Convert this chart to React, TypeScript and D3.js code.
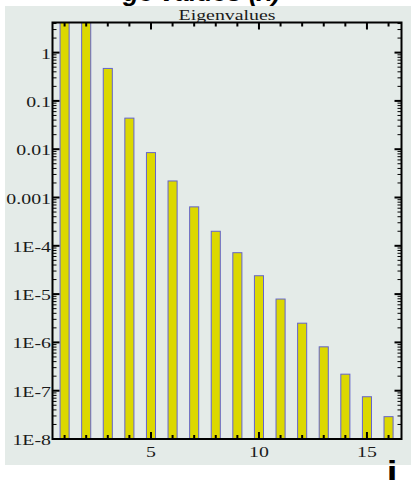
import React from "react";
import * as d3 from "d3";

// Eigenvalue spectrum, index i = 1..16 (log scale)
const eigenIndex = [1, 2, 3, 4, 5, 6, 7, 8, 9, 10, 11, 12, 13, 14, 15, 16];
const eigenvalues = [
  20, 8, 0.47, 0.044, 0.0085, 0.0022, 6.4e-4, 2.0e-4, 7.2e-5, 2.4e-5, 7.9e-6,
  2.5e-6, 8.1e-7, 2.2e-7, 7.5e-8, 2.9e-8,
];
const yTickValues = [1e-8, 1e-7, 1e-6, 1e-5, 1e-4, 1e-3, 1e-2, 1e-1, 1];
const yTickLabels = ["1E-8", "1E-7", "1E-6", "1E-5", "1E-4", "0.001", "0.01", "0.1", "1"];
const xMajorTicks = [5, 10, 15];
const xTickLabels = ["5", "10", "15"];

const W = 411;
const H = 480;
const frame = { left: 52.5, right: 401.5, top: 22.5, bottom: 439 };
const serif = "'Liberation Serif', 'DejaVu Serif', serif";
const stretch = 1.28;

export default function App() {
  const x = d3.scaleLinear().domain([0.44, 16.6]).range([frame.left, frame.right]);
  const y = d3.scaleLog().domain([1e-8, 4.2]).range([frame.bottom, frame.top]);
  const half = 0.21;

  // minor log ticks: 2..9 within each decade, clipped to the domain
  const minorY: number[] = [];
  for (let e = -8; e <= 0; e++) {
    for (let m = 2; m <= 9; m++) {
      const v = m * Math.pow(10, e);
      if (v <= y.domain()[1]) minorY.push(v);
    }
  }

  const majorLen = 7;
  const minorLen = 4;

  return (
    <svg
      width={W}
      height={H}
      style={{ position: "absolute", left: 0, top: 0, display: "block" }}
      viewBox={`0 0 ${W} ${H}`}
    >
      <rect x={0} y={0} width={W} height={H} fill="#ffffff" />
      <rect x={5} y={6} width={W - 5} height={459} fill="#e4ebe8" />

      {/* heading above the panel, mostly outside the page */}
      <text
        x={123}
        y={1}
        fontFamily="'Liberation Sans', Arial, sans-serif"
        fontWeight="bold"
        fontStyle="italic"
        fontSize={26}
        fill="#000"
      >
        ge values (λ)
      </text>
      <rect x={5} y={6} width={W - 5} height={14} fill="#e4ebe8" />

      <defs>
        <clipPath id="plotClip">
          <rect
            x={frame.left}
            y={frame.top}
            width={frame.right - frame.left}
            height={frame.bottom - frame.top}
          />
        </clipPath>
      </defs>

      {/* bars */}
      <g clipPath="url(#plotClip)">
        {eigenIndex.map((i, k) => {
          const x0 = x(i - half);
          const x1 = x(i + half);
          const yt = y(eigenvalues[k]);
          return (
            <rect
              key={i}
              x={x0}
              y={yt}
              width={x1 - x0}
              height={frame.bottom - yt}
              fill="#dcd800"
              stroke="#6464cc"
              strokeWidth={1}
            />
          );
        })}
      </g>

      {/* y ticks, left and right, pointing inward */}
      <g stroke="#000">
        {yTickValues.map((v) => (
          <g key={"ym" + v}>
            <line x1={frame.left} x2={frame.left + majorLen} y1={y(v)} y2={y(v)} strokeWidth={2} />
            <line x1={frame.right} x2={frame.right - majorLen} y1={y(v)} y2={y(v)} strokeWidth={2} />
          </g>
        ))}
        {minorY.map((v) => (
          <g key={"yn" + v}>
            <line x1={frame.left} x2={frame.left + minorLen} y1={y(v)} y2={y(v)} strokeWidth={1} />
            <line x1={frame.right} x2={frame.right - minorLen} y1={y(v)} y2={y(v)} strokeWidth={1} />
          </g>
        ))}
        {eigenIndex.map((i) => {
          const major = xMajorTicks.includes(i);
          const len = major ? majorLen : minorLen;
          return (
            <g key={"xt" + i}>
              <line x1={x(i)} x2={x(i)} y1={frame.bottom} y2={frame.bottom - len} strokeWidth={2} />
              <line x1={x(i)} x2={x(i)} y1={frame.top} y2={frame.top + len} strokeWidth={2} />
            </g>
          );
        })}
      </g>

      {/* frame */}
      <rect
        x={frame.left}
        y={frame.top}
        width={frame.right - frame.left}
        height={frame.bottom - frame.top}
        fill="none"
        stroke="#000"
        strokeWidth={2}
      />

      {/* y labels */}
      {yTickValues.map((v, k) => (
        <text
          key={"yl" + v}
          transform={`translate(${frame.left - 1.5},${y(v) + 6}) scale(${stretch},1)`}
          textAnchor="end"
          fontFamily={serif}
          fontSize={15.5}
          fill="#1a1a1a"
        >
          {yTickLabels[k]}
        </text>
      ))}

      {/* x labels */}
      {xMajorTicks.map((v, k) => (
        <text
          key={"xl" + v}
          transform={`translate(${x(v)},${frame.bottom + 18}) scale(${stretch},1)`}
          textAnchor="middle"
          fontFamily={serif}
          fontSize={15.5}
          fill="#1a1a1a"
        >
          {xTickLabels[k]}
        </text>
      ))}

      {/* title */}
      <text
        transform={`translate(${(frame.left + frame.right) / 2},${19.5}) scale(${stretch},1)`}
        textAnchor="middle"
        fontFamily={serif}
        fontSize={15.5}
        fill="#1a1a1a"
      >
        Eigenvalues
      </text>

      {/* axis variable */}
      <text
        transform={`translate(392,483) scale(1.2,1)`}
        textAnchor="middle"
        fontFamily="'Liberation Sans', Arial, sans-serif"
        fontWeight="bold"
        fontSize={32}
        fill="#000"
      >
        i
      </text>
    </svg>
  );
}
